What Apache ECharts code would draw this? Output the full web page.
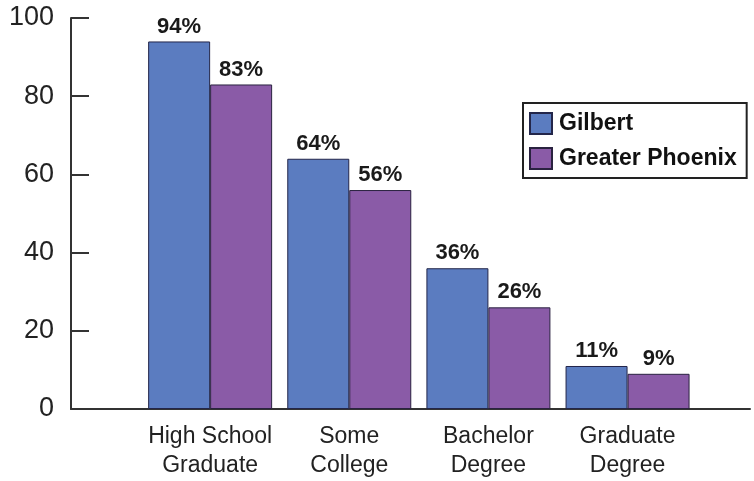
<!DOCTYPE html>
<html>
<head>
<meta charset="utf-8">
<script src="https://cdn.jsdelivr.net/npm/echarts@6/dist/echarts.min.js"></script>
<style>
  html, body { margin: 0; padding: 0; background: #fff; }
  #chart { width: 754px; height: 481px; }
</style>
</head>
<body>
<div id="chart"></div>
<script>
// Educational attainment, percent of adults
const categories = ['High School\nGraduate', 'Some\nCollege', 'Bachelor\nDegree', 'Graduate\nDegree'];
const gilbert = [94, 64, 36, 11];
const greaterPhoenix = [83, 56, 26, 9];
const yTicks = [0, 20, 40, 60, 80, 100];

// Categories sit at x = 1..4 on a numeric axis so the baseline runs past the groups
const toPoints = vals => vals.map((v, i) => [i + 1, v]);

const chart = echarts.init(document.getElementById('chart'));

const barLabel = {
  show: true,
  position: 'top',
  distance: 4,
  formatter: p => p.value[1] + '%',
  color: '#1a1a1a',
  fontFamily: 'Liberation Sans',
  fontWeight: 'bold',
  fontSize: 22
};

chart.setOption({
  animation: false,
  grid: { left: 71, right: 4, top: 18, bottom: 72 },
  legend: {
    orient: 'vertical',
    left: 523,
    top: 103,
    padding: [9, 10, 8, 6],
    itemGap: 12,
    itemWidth: 22,
    itemHeight: 21,
    borderColor: '#222',
    borderWidth: 2,
    textStyle: {
      fontFamily: 'Liberation Sans',
      fontWeight: 'bold',
      fontSize: 23,
      color: '#111',
      padding: [0, 0, 0, 2]
    },
    data: [
      { name: 'Gilbert', icon: 'rect' },
      { name: 'Greater Phoenix', icon: 'rect' }
    ]
  },
  xAxis: {
    type: 'value',
    min: 0,
    max: 4.88,
    interval: 1,
    splitLine: { show: false },
    axisTick: { show: false },
    axisLine: { show: true, lineStyle: { color: '#333', width: 2 } },
    axisLabel: {
      margin: 13,
      showMaxLabel: false,
      formatter: v => (v >= 1 && v <= categories.length) ? categories[v - 1] : '',
      fontFamily: 'Liberation Sans',
      fontSize: 23,
      lineHeight: 29,
      color: '#222'
    }
  },
  yAxis: {
    type: 'value',
    min: yTicks[0],
    max: yTicks[yTicks.length - 1],
    interval: 20,
    offset: 2,
    splitLine: { show: false },
    axisLine: { show: true, lineStyle: { color: '#333', width: 2 } },
    axisTick: { show: true, inside: true, length: 18, lineStyle: { color: '#333', width: 2 } },
    axisLabel: {
      margin: 15,
      fontFamily: 'Liberation Sans',
      fontSize: 27,
      color: '#222'
    }
  },
  series: [
    {
      name: 'Gilbert',
      type: 'bar',
      data: toPoints(gilbert),
      barWidth: 62,
      barGap: '0%',
      itemStyle: { color: '#5b7cc0', borderColor: '#23264a', borderWidth: 1 },
      label: barLabel
    },
    {
      name: 'Greater Phoenix',
      type: 'bar',
      data: toPoints(greaterPhoenix),
      barWidth: 62,
      barGap: '0%',
      itemStyle: { color: '#8a5ba7', borderColor: '#2a2240', borderWidth: 1 },
      label: barLabel
    }
  ]
});
</script>
</body>
</html>
